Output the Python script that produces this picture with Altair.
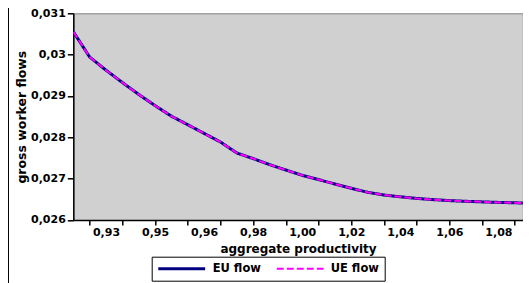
import altair as alt
import pandas as pd

# category index along the (category-type) x axis
cats = list(range(29))
eu_flow = [0.030555, 0.029943, 0.029624, 0.029326, 0.029038, 0.028767, 0.028511,
           0.028305, 0.028095, 0.027887, 0.027621, 0.027485, 0.027340, 0.027209,
           0.027081, 0.026977, 0.026871, 0.026767, 0.026670, 0.026605, 0.026561,
           0.026522, 0.026493, 0.026469, 0.026452, 0.026438, 0.026426, 0.026416,
           0.026406]
ue_flow = [0.030555, 0.029943, 0.029624, 0.029326, 0.029038, 0.028767, 0.028511,
           0.028305, 0.028095, 0.027887, 0.027621, 0.027485, 0.027340, 0.027209,
           0.027081, 0.026977, 0.026871, 0.026767, 0.026670, 0.026605, 0.026561,
           0.026522, 0.026493, 0.026469, 0.026452, 0.026438, 0.026426, 0.026416,
           0.026406]
series_names = ["EU flow", "UE flow"]
x_label_cats = [2, 5, 8, 11, 14, 17, 20, 23, 26]
x_labels = ["0,93", "0,95", "0,96", "0,98", "1,00", "1,02", "1,04", "1,06", "1,08"]
x_tick_cats = list(range(1, 28, 2))
y_ticks = [0.026, 0.027, 0.028, 0.029, 0.030, 0.031]

rows = []
for name, vals in zip(series_names, [eu_flow, ue_flow]):
    for c, v in zip(cats, vals):
        rows.append({"cat": c, "value": v, "series": name})
df = pd.DataFrame(rows)

W, H = 449.5, 206.7
XMAX = W / 16.35

axis_vals = sorted(set(x_tick_cats) | set(x_label_cats))
lab_arr = "[" + ",".join("'" + s + "'" for s in x_labels) + "]"
label_expr = (f"(datum.value - 2) % 3 == 0 ? {lab_arr}[(datum.value - 2) / 3] : ''")

x_axis = alt.Axis(
    values=axis_vals,
    labelExpr=label_expr,
    tickOpacity={"condition": {"test": "datum.value % 2 == 1", "value": 1}, "value": 0},
    title="aggregate productivity",
    titleX=224.7, titleY=29, titleBaseline="middle", titleAnchor="middle",
    titleFontSize=12,
    tickSize=5, labelPadding=8, labelBaseline="middle",
    labelOverlap=False, labelFlush=False,
)
y_axis = alt.Axis(
    values=y_ticks,
    labelExpr="replace(format(datum.value, '.3~f'), '.', ',')",
    title="gross worker flows",
    titleX=-51.5, titleY=H / 2, titleBaseline="middle", titleAngle=-90,
    titleFontSize=12.5,
    tickSize=6, labelPadding=2,
)

lines = alt.Chart(df).mark_line(clip=True).encode(
    x=alt.X("cat:Q", scale=alt.Scale(domain=[0, XMAX], nice=False, zero=False), axis=x_axis),
    y=alt.Y("value:Q", scale=alt.Scale(domain=[0.026, 0.031], nice=False, zero=False), axis=y_axis),
    color=alt.Color("series:N",
                    scale=alt.Scale(domain=series_names, range=["#000080", "#FF00FF"]),
                    legend=alt.Legend(title=None, orient="none", legendX=78.4, legendY=243.4,
                                      direction="horizontal", symbolType="stroke",
                                      symbolSize=2200, clipHeight=14, labelOffset=6,
                                      columnPadding=14, padding=5, strokeColor="black",
                                      fillColor="white", labelFontSize=11.5,
                                      labelFontWeight="bold", labelColor="black")),
    strokeDash=alt.StrokeDash("series:N",
                              scale=alt.Scale(domain=series_names, range=[[1, 0], [7, 3]])),
    strokeWidth=alt.StrokeWidth("series:N",
                                scale=alt.Scale(domain=series_names, range=[3, 2])),
)

frame = alt.Chart(pd.DataFrame({"a": [0]})).mark_rule(color="black", strokeWidth=1).encode(
    x=alt.value(-64.8), y=alt.value(-5.3), y2=alt.value(H + 63)
)

chart = alt.layer(frame, lines).properties(
    width=W, height=H,
    autosize=alt.AutoSizeParams(type="none"),
    padding={"left": 65.3, "top": 5.3, "right": 0, "bottom": 63},
    background="white",
).configure(
    font="DejaVu Sans",
).configure_axis(
    grid=False, labelFont="DejaVu Sans", labelFontSize=11, labelFontWeight="bold",
    labelColor="black", titleFont="DejaVu Sans", titleFontSize=11, titleFontWeight="bold",
    titleColor="black", domainColor="black", domainWidth=1.5, tickColor="black",
    tickWidth=1.5,
).configure_view(
    stroke="#808080", fill="#D0D0D0", strokeWidth=1,
)

chart.save("out.html", embed_options={"renderer": "svg", "actions": False})
